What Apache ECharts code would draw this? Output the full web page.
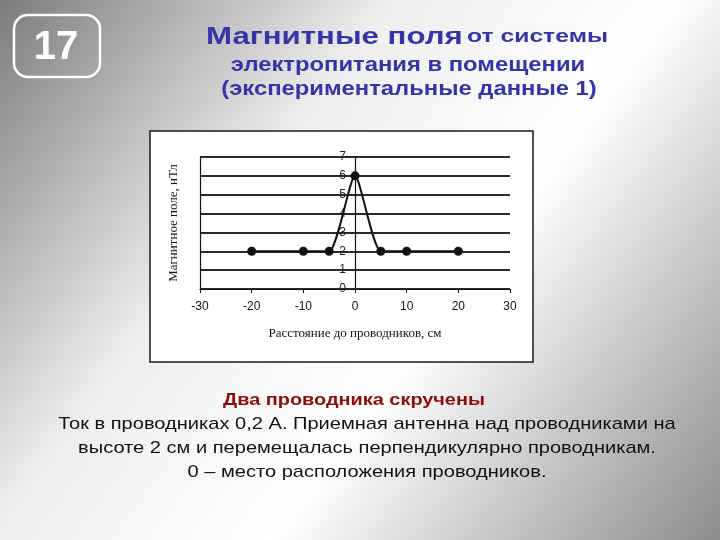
<!DOCTYPE html>
<html lang="ru">
<head>
	<meta charset="utf-8">
	<title>Магнитные поля от системы электропитания</title>
	<style>
		html, body { margin: 0; padding: 0; }
		#main { width: 720px; height: 540px; }
	</style>
</head>
<body>
	<div id="main"></div>
	<script src="https://cdn.jsdelivr.net/npm/echarts@6/dist/echarts.min.js"></script>
	<script>
		// данные с графика (расстояние, см / поле, нТл)
		var distances = [-20, -10, -5, 0, 5, 10, 20];
		var fieldValues = [2, 2, 2, 6, 2, 2, 2];
		var xTicks = [-30, -20, -10, 0, 10, 20, 30];
		var yTicks = [0, 1, 2, 3, 4, 5, 6, 7];

		var titleMain = 'Магнитные поля';
		var titleRest = 'от системы';
		var titleLine2 = 'электропитания в помещении';
		var titleLine3 = '(экспериментальные данные 1)';
		var noteHead = 'Два проводника скручены';
		var noteLines = [
			'Ток в проводниках 0,2 А. Приемная антенна над проводниками на',
			'высоте 2 см и перемещалась перпендикулярно проводникам.',
			'0 – место расположения проводников.'
		];

		var points = [];
		for (var i = 0; i < distances.length; i++) {
			points.push([distances[i], fieldValues[i]]);
		}

		var myChart = echarts.init(document.getElementById('main'), null, { renderer: 'canvas' });

		// слайд растянут по горизонтали, поэтому текст тоже растягиваем
		var sansFont = '"Liberation Sans", Arial, sans-serif';
		var noteGraphics = [];
		for (var j = 0; j < noteLines.length; j++) {
			noteGraphics.push({
				type: 'text', x: 367, y: 424 + j * 24, scaleX: 1.18, z: 10,
				style: {
					text: noteLines[j], align: 'center', verticalAlign: 'middle',
					font: '17px ' + sansFont, fill: '#111'
				}
			});
		}

		var option = {
			animation: false,
			backgroundColor: {
				type: 'linear', x: 0, y: 0, x2: 1, y2: 1,
				colorStops: [
					{ offset: 0, color: '#7c7c7c' },
					{ offset: 0.35, color: '#eeeeee' },
					{ offset: 0.6, color: '#ffffff' },
					{ offset: 1, color: '#8c8c8c' }
				]
			},
			graphic: [
				// белая рамка диаграммы
				{
					type: 'rect', z: -1,
					shape: { x: 150, y: 131, width: 383, height: 231 },
					style: { fill: '#ffffff', stroke: '#1a1a1a', lineWidth: 1.5 }
				},
				// номер слайда
				{
					type: 'rect',
					shape: { x: 14, y: 15, width: 86, height: 62, r: 14 },
					style: { fill: 'none', stroke: '#ffffff', lineWidth: 2.5 }
				},
				{
					type: 'text', x: 56, y: 48,
					style: {
						text: '17', align: 'center', verticalAlign: 'middle',
						font: 'bold 40px ' + sansFont, fill: '#ffffff'
					}
				},
				// заголовок
				{
					type: 'text', x: 407, y: 37, scaleX: 1.3,
					style: {
						text: '{a|' + titleMain + '} {b|' + titleRest + '}',
						align: 'center', verticalAlign: 'middle',
						rich: {
							a: { fontSize: 24, fontWeight: 'bold', fontFamily: sansFont, fill: '#3535a8' },
							b: { fontSize: 19, fontWeight: 'bold', fontFamily: sansFont, fill: '#3535a8' }
						}
					}
				},
				{
					type: 'text', x: 408, y: 65, scaleX: 1.19,
					style: {
						text: titleLine2, align: 'center', verticalAlign: 'middle',
						font: 'bold 20px ' + sansFont, fill: '#3535a8'
					}
				},
				{
					type: 'text', x: 409, y: 89, scaleX: 1.19,
					style: {
						text: titleLine3, align: 'center', verticalAlign: 'middle',
						font: 'bold 20px ' + sansFont, fill: '#3535a8'
					}
				},
				{
					type: 'text', x: 354, y: 400, scaleX: 1.17,
					style: {
						text: noteHead, align: 'center', verticalAlign: 'middle',
						font: 'bold 17px ' + sansFont, fill: '#8e0c0c'
					}
				}
			].concat(noteGraphics),
			grid: { left: 200, right: 210, top: 157, bottom: 251 },
			xAxis: {
				type: 'value', min: xTicks[0], max: xTicks[xTicks.length - 1], interval: 10,
				name: 'Расстояние до проводников, см',
				nameLocation: 'middle', nameGap: 38,
				nameTextStyle: { fontFamily: '"Liberation Serif", "Times New Roman", serif', fontSize: 13, color: '#111' },
				axisLine: { lineStyle: { color: '#111', width: 1.2 } },
				axisTick: { show: true, length: 4, inside: false, lineStyle: { color: '#111' } },
				axisLabel: { fontFamily: sansFont, fontSize: 12, color: '#111', margin: 12 },
				splitLine: { show: false }
			},
			yAxis: {
				type: 'value', min: yTicks[0], max: yTicks[yTicks.length - 1], interval: 1,
				position: 'left', offset: -155,
				name: 'Магнитное поле, нТл',
				nameLocation: 'middle', nameGap: 175, nameRotate: 90,
				nameTextStyle: { fontFamily: '"Liberation Serif", "Times New Roman", serif', fontSize: 13, color: '#111' },
				axisLine: { onZero: false, lineStyle: { color: '#111', width: 1.2 } },
				axisTick: { show: false },
				axisLabel: { fontFamily: sansFont, fontSize: 12, color: '#222', margin: 9 },
				splitLine: { show: true, lineStyle: { color: '#2a2a2a', width: 1.8 } }
			},
			series: [{
				type: 'line',
				data: points,
				smooth: 0.2,
				symbol: 'circle',
				symbolSize: 9,
				itemStyle: { color: '#111' },
				lineStyle: { color: '#111', width: 2 },
				markLine: {
					silent: true,
					symbol: ['none', 'none'],
					label: { show: false },
					lineStyle: { type: 'solid', color: '#111', width: 1.2 },
					data: [{ xAxis: xTicks[0] }]
				}
			}]
		};

		myChart.setOption(option);
	</script>
</body>
</html>
